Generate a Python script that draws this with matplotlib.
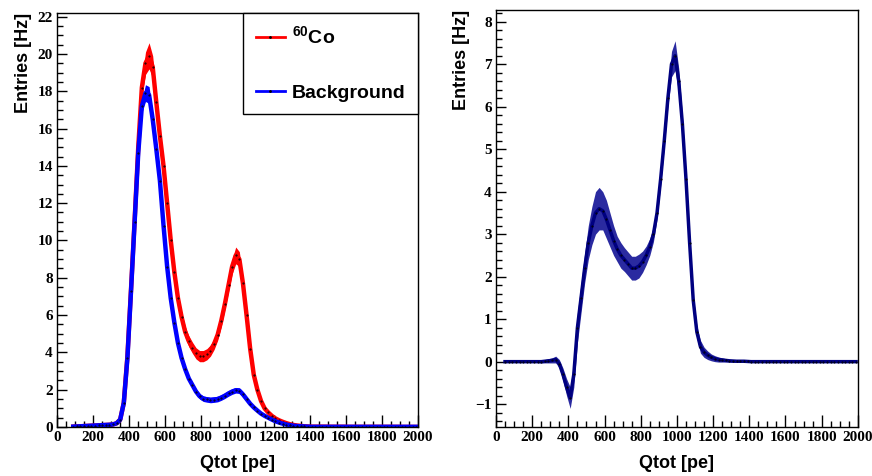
import numpy as np
import matplotlib
matplotlib.use("Agg")
import matplotlib.pyplot as plt
from matplotlib.lines import Line2D
from matplotlib.ticker import MultipleLocator

nan = float("nan")

# bin centres in pe (20 pe bins)
qtot = np.arange(10, 2000, 20)

# 60Co spectrum [Hz]
co60 = [nan, nan, nan, nan, 0.02, 0.03, 0.04, 0.05, 0.06, 0.07,
        0.08, 0.09, 0.10, 0.11, 0.12, 0.14, 0.2, 0.4, 1.3, 3.8,
        7.4, 11.1, 15.0, 18.2, 19.5, 19.9, 19.3, 17.4, 15.6, 14.0,
        12.0, 10.0, 8.3, 6.9, 5.9, 5.1, 4.6, 4.25, 3.95, 3.8,
        3.8, 3.9, 4.1, 4.45, 4.95, 5.7, 6.6, 7.6, 8.6, 9.2,
        9.0, 7.7, 6.0, 4.2, 2.8, 2.0, 1.4, 1.0, 0.78, 0.6,
        0.46, 0.36, 0.28, 0.21, 0.15, 0.11, 0.08, 0.06, 0.04, 0.03,
        0.02, 0.02, 0.02, 0.02, 0.02, 0.015, 0.015, 0.015, 0.015, 0.015,
        0.01, 0.01, 0.01, 0.01, 0.01, 0.01, 0.01, 0.01, 0.01, 0.01,
        0.01, 0.01, 0.01, 0.01, 0.01, 0.005, 0.005, 0.005, 0.005, 0.005]
co60_err = [0.03] * 16 + [0.05, 0.08, 0.1, 0.15,
            0.15, 0.2, 0.25, 0.4, 0.6, 0.7, 0.6, 0.45, 0.35, 0.3] + [0.3] * 17 + [
            0.35, 0.4, 0.45,
            0.4, 0.3, 0.25, 0.2, 0.2, 0.15, 0.12, 0.1, 0.08, 0.07,
            0.06, 0.05, 0.05, 0.04, 0.04, 0.03, 0.03, 0.03, 0.03, 0.03] + [0.02] * 30

# background spectrum [Hz]
bkg = [nan, nan, nan, nan, 0.02, 0.03, 0.04, 0.05, 0.06, 0.07,
       0.08, 0.09, 0.10, 0.11, 0.12, 0.14, 0.2, 0.4, 1.3, 3.7,
       7.3, 11.0, 14.7, 17.2, 17.9, 17.8, 16.5, 14.9, 13.2, 10.8,
       8.6, 6.9, 5.6, 4.5, 3.7, 3.1, 2.6, 2.25, 1.9, 1.65,
       1.52, 1.48, 1.45, 1.47, 1.5, 1.58, 1.68, 1.8, 1.9, 1.97,
       1.95, 1.75, 1.5, 1.25, 1.05, 0.88, 0.72, 0.6, 0.5, 0.4,
       0.31, 0.24, 0.18, 0.13, 0.1, 0.07, 0.05, 0.04, 0.03, 0.02] + [0.01] * 30
bkg_err = [0.03] * 16 + [0.05, 0.08, 0.1, 0.15,
           0.15, 0.2, 0.25, 0.35, 0.45, 0.45, 0.35, 0.3, 0.25, 0.2,
           0.2, 0.2, 0.18, 0.15, 0.15, 0.15, 0.15, 0.15, 0.15, 0.15] + [0.15] * 10 + [
           0.15, 0.15, 0.12, 0.1, 0.1, 0.1, 0.08, 0.08, 0.07, 0.06,
           0.05, 0.05, 0.04, 0.04, 0.03, 0.03, 0.03, 0.03, 0.03, 0.03] + [0.02] * 30

# 60Co minus background [Hz]
diff = [nan, nan, 0.0, 0.0, 0.0, 0.0, 0.0, 0.0, 0.0, 0.0,
        0.0, 0.0, 0.0, 0.01, 0.02, 0.03, 0.05, -0.05, -0.3, -0.6,
        -0.85, -0.3, 0.8, 1.5, 2.2, 2.8, 3.2, 3.5, 3.6, 3.55,
        3.35, 3.1, 2.85, 2.65, 2.5, 2.4, 2.3, 2.2, 2.2, 2.25,
        2.35, 2.5, 2.7, 3.0, 3.5, 4.3, 5.2, 6.2, 7.0, 7.2,
        6.6, 5.6, 4.3, 2.8, 1.45, 0.7, 0.35, 0.22, 0.15, 0.1,
        0.07, 0.05, 0.04, 0.03, 0.02, 0.015, 0.01, 0.01, 0.01, 0.005] + [0.0] * 30
diff_err = [0.02] * 10 + [0.02, 0.02, 0.03, 0.04, 0.05, 0.06, 0.08, 0.1, 0.15, 0.2,
            0.25, 0.3, 0.35, 0.35, 0.35, 0.4, 0.45, 0.5, 0.5, 0.45,
            0.45, 0.4, 0.35, 0.3, 0.3, 0.28, 0.28, 0.28, 0.28, 0.28,
            0.25, 0.22, 0.2, 0.18, 0.15, 0.15, 0.15, 0.2, 0.3, 0.35,
            0.3, 0.2, 0.15, 0.12, 0.12, 0.15, 0.15, 0.12, 0.1, 0.08,
            0.07, 0.06, 0.05, 0.04, 0.03, 0.03, 0.02, 0.02, 0.02, 0.02] + [0.015] * 30

# tick labels in bold serif, titles in bold sans
plt.rcParams['font.family'] = 'Liberation Serif'
plt.rcParams['font.weight'] = 'bold'
plt.rcParams['mathtext.fontset'] = 'custom'
plt.rcParams['mathtext.rm'] = 'Liberation Sans:bold'
plt.rcParams['mathtext.bf'] = 'Liberation Sans:bold'

titlefont = {'family': 'Liberation Sans', 'weight': 'bold', 'size': 13}


def draw_hist(ax, y, err, color, band, lw):
    y = np.array(y, dtype=float)
    err = np.array(err, dtype=float)
    ax.fill_between(qtot, y - err, y + err, color=band, linewidth=0)
    ax.plot(qtot, y, color=color, lw=lw)
    ax.plot(qtot, y, 'k.', markersize=1)


def style_axes(ax, ymajor, yminor):
    ax.set_xlim(0, 2000)
    ax.xaxis.set_major_locator(MultipleLocator(200))
    ax.xaxis.set_minor_locator(MultipleLocator(50))
    ax.yaxis.set_major_locator(MultipleLocator(ymajor))
    ax.yaxis.set_minor_locator(MultipleLocator(yminor))
    ax.tick_params(axis='both', which='both', direction='in', top=False, right=False,
                   width=1, labelsize=11)
    ax.tick_params(axis='x', which='major', length=8.5, pad=3)
    ax.tick_params(axis='x', which='minor', length=4.5)
    ax.tick_params(axis='y', which='major', length=7.5, pad=3)
    ax.tick_params(axis='y', which='minor', length=4)
    ax.set_xlabel('Qtot [pe]', fontdict=titlefont, labelpad=8)
    ax.set_ylabel('Entries [Hz]', fontdict=titlefont, loc='top', labelpad=4)
    for s in ax.spines.values():
        s.set_linewidth(1)


fig = plt.figure(figsize=(8.72, 4.76), dpi=100)
ax1 = fig.add_axes([0.0654, 0.1029, 0.414, 0.870])
ax2 = fig.add_axes([0.5688, 0.1036, 0.415, 0.875])

draw_hist(ax1, co60, co60_err, 'red', 'red', 3.2)
draw_hist(ax1, bkg, bkg_err, 'blue', 'blue', 3.2)
ax1.set_ylim(0, 22.2)
style_axes(ax1, 2, 0.5)

handles = [Line2D([], [], color='red', lw=2, marker='.', markersize=2, mfc='k', mec='k'),
           Line2D([], [], color='blue', lw=2, marker='.', markersize=2, mfc='k', mec='k')]
leg = ax1.legend(handles, [r'$^{60}$Co', 'Background'], loc='upper right',
                 bbox_to_anchor=(1, 1), borderaxespad=0, fancybox=False,
                 edgecolor='black', framealpha=1, borderpad=0.65, labelspacing=1.85,
                 handlelength=1.5, handletextpad=0.35,
                 prop={'family': 'Liberation Sans', 'weight': 'bold', 'size': 14})
leg.get_frame().set_linewidth(1)

draw_hist(ax2, diff, diff_err, '#000080', '#2a2aa0', 2.5)
ax2.set_ylim(-1.53, 8.27)
style_axes(ax2, 1, 0.2)

fig.savefig('out.png', dpi=100)
